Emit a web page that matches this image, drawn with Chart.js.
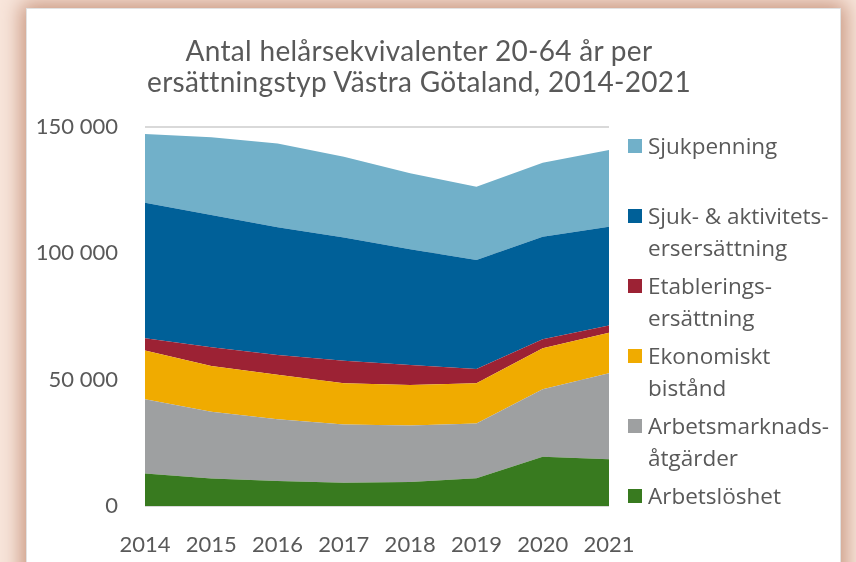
<!DOCTYPE html>
<html>
<head>
<meta charset="utf-8">
<script src="https://cdn.jsdelivr.net/npm/chart.js@4"></script>
<style>
  html, body { margin: 0; padding: 0; }
  body { width: 856px; height: 562px; overflow: hidden; background: #f8e6dc; position: relative; }
  #panel {
    position: absolute; left: 26px; top: 8px; width: 813px; height: 600px;
    background: #fff; border: 1px solid #e2e2e2;
    box-shadow: 0 0 20px 5px #c8957e;
  }
  #wrap { position: absolute; left: 0; top: 0; width: 856px; height: 562px; }
  #title {
    position: absolute; left: 119px; width: 600px; top: 35px;
    text-align: center; color: #595959;
    font-family: Lato, sans-serif; font-size: 28px; line-height: 31.3px; letter-spacing: 0.3px;
  }
  #legend { position: absolute; left: 628px; top: 130px; font-family: "Open Sans", sans-serif; font-size: 22.5px; color: #595959; }
  .item { position: relative; height: 70px; padding-left: 20px; line-height: 32px; white-space: pre; }
  .box { position: absolute; left: 0; top: 9px; width: 14px; height: 14px; }
</style>
</head>
<body>
<div id="panel"></div>
<div id="wrap"><canvas id="chart" width="856" height="562"></canvas></div>
<div id="title"></div>
<div id="legend"></div>
<script>
const titleLines = ['Antal helårsekvivalenter 20-64 år per', 'ersättningstyp Västra Götaland, 2014-2021'];
const years = ['2014', '2015', '2016', '2017', '2018', '2019', '2020', '2021'];

// stacked from the bottom up
const arbetsloshet = [12900, 10900, 9900, 9200, 9500, 11000, 19500, 18500];
const arbetsmarknad = [29300, 26400, 24400, 23100, 22400, 21700, 26700, 34000];
const ekonomiskt = [19300, 18100, 17600, 16300, 16000, 15900, 16200, 16100];
const etablering = [4900, 7400, 7900, 8900, 7900, 5600, 3600, 2800];
const sjukAktivitet = [53600, 52400, 50500, 48800, 45800, 43200, 40600, 39100];
const sjukpenning = [27200, 30700, 33200, 31900, 30100, 29000, 29300, 30400];

const seriesNames = ['Arbetslöshet', 'Arbetsmarknads-\nåtgärder', 'Ekonomiskt\nbistånd',
    'Etablerings-\nersättning', 'Sjuk- & aktivitets-\nersersättning', 'Sjukpenning'];
const seriesData = [arbetsloshet, arbetsmarknad, ekonomiskt, etablering, sjukAktivitet, sjukpenning];
const seriesColors = ['#387a1f', '#9ea0a1', '#f0ab00', '#9c2234', '#006098', '#71b0c9'];
const yTicks = [0, 50000, 100000, 150000];

document.getElementById('title').innerHTML = titleLines.join('<br>');

const legend = document.getElementById('legend');
for (let i = seriesNames.length - 1; i >= 0; i--) {
    const item = document.createElement('div');
    item.className = 'item';
    item.innerHTML = `<span class="box" style="background:${seriesColors[i]}"></span>${seriesNames[i]}`;
    legend.appendChild(item);
}

const tickFont = { family: 'Lato, "Liberation Sans", sans-serif', size: 22 };

const ctx = document.getElementById('chart').getContext('2d');
new Chart(ctx, {
    type: 'line',
    data: {
        labels: years,
        datasets: seriesData.map((d, i) => ({
            label: seriesNames[i],
            data: d,
            backgroundColor: seriesColors[i],
            borderWidth: 0,
            pointRadius: 0,
            fill: i === 0 ? 'origin' : '-1',
            tension: 0
        }))
    },
    options: {
        responsive: false,
        animation: false,
        layout: { padding: { top: 127, right: 247, left: 0, bottom: 0 } },
        plugins: { legend: { display: false }, tooltip: { enabled: false } },
        scales: {
            x: {
                offset: false,
                grid: { display: false },
                border: { display: false },
                ticks: { color: '#595959', font: tickFont, padding: 18, maxRotation: 0 },
                afterFit: s => { s.height = 56; }
            },
            y: {
                stacked: true,
                min: 0,
                max: 150000,
                afterBuildTicks: s => { s.ticks = yTicks.map(v => ({ value: v })); },
                grid: { color: '#d9d9d9', lineWidth: 2, drawTicks: false },
                border: { display: false },
                ticks: {
                    color: '#595959', font: tickFont, padding: 27,
                    callback: v => String(v).replace(/\B(?=(\d{3})+(?!\d))/g, ' ')
                },
                afterFit: s => { s.width = 145; }
            }
        }
    }
});
</script>
</body>
</html>
